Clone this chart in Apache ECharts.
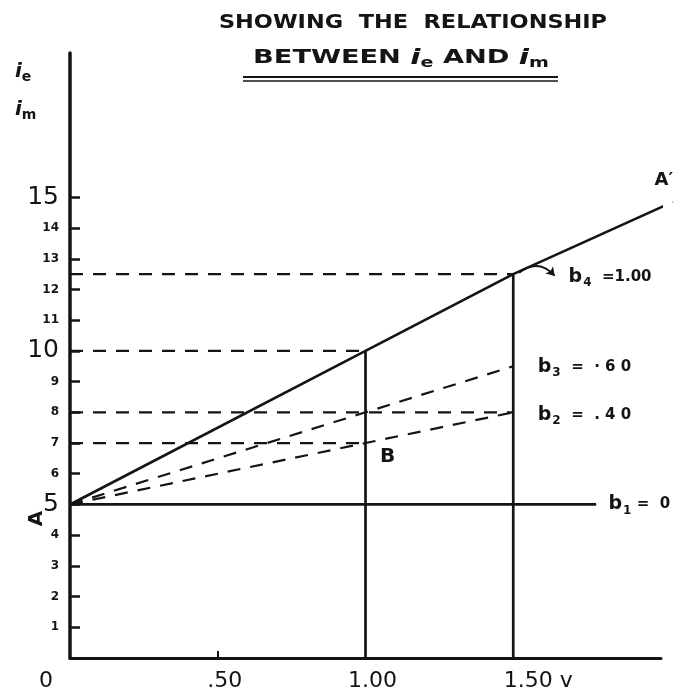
<!DOCTYPE html>
<html>
<head>
<meta charset="utf-8">
<script src="https://cdn.jsdelivr.net/npm/echarts@6/dist/echarts.min.js"></script>
<style>
  html, body { margin: 0; padding: 0; background: #fff; }
  #chart { width: 682px; height: 698px; }
</style>
</head>
<body>
<div id="chart"></div>
<script>
  'use strict'

  /*----- values -----*/
  var xTicks = [0, 0.5, 1.0, 1.5];
  var xTickLabels = ['0', '.50', '1.00', '1.50 v'];
  var yTicks = [1, 2, 3, 4, 5, 6, 7, 8, 9, 10, 11, 12, 13, 14, 15];

  var lineA = [[0, 5], [1.0, 10], [1.5, 12.5], [2.04, 14.85]];   // b4 = 1.00
  var lineB3 = [[0, 5], [1.0, 8], [1.5, 9.5]];                     // b3 = .60
  var lineB2 = [[0, 5], [1.0, 7], [1.5, 8]];                       // b2 = .40
  var lineB1 = [[0, 5], [1.78, 5]];                                // b1 = 0
  var guideV = [[1.0, 10], [1.5, 12.5]];                           // x, top
  var guideH = [[12.5, 1.5], [10, 1.0], [8, 1.5], [7, 1.0]];       // y, right end
  var arrowB4 = [[1.52, 12.55], [1.64, 12.45]];

  var ink = '#141414';
  var font = 'DejaVu Sans';

  var subRich = {
    b: { fontSize: 19, fontWeight: 'bold', fontFamily: font, color: ink },
    s: { fontSize: 12, fontWeight: 'bold', fontFamily: font, color: ink, padding: [12, 0, 0, 1] },
    t: { fontSize: 15, fontWeight: 'bold', fontFamily: font, color: ink }
  };

  function seg(data, dashed) {
    return {
      type: 'line',
      data: data,
      symbol: 'circle',
      symbolSize: 1,
      showSymbol: true,
      clip: false,
      silent: true,
      animation: false,
      itemStyle: { color: ink },
      lineStyle: { color: ink, width: dashed ? 2.2 : 2.7, type: dashed ? [13, 10] : 'solid' },
      z: 3
    };
  }

  function endLabel(text, dist, off) {
    return {
      show: true,
      position: 'right',
      distance: dist,
      offset: off || [0, 0],
      formatter: text,
      rich: subRich
    };
  }

  var series = [];

  // solid line A -> A'
  var aData = lineA.map(function (p) { return { value: p }; });
  aData[0].label = {
    show: true, position: 'inside', offset: [-14, -33], rotate: 90,
    formatter: 'A', fontSize: 20, fontWeight: 'bold', fontFamily: font, color: ink
  };
  aData[aData.length - 1].label = {
    show: true, position: 'inside', offset: [-9, -22],
    formatter: 'A\u2032', fontSize: 18, fontWeight: 'bold', fontFamily: font, color: ink
  };
  series.push(seg(aData, false));

  // b3 dashed
  var b3Data = lineB3.map(function (p) { return { value: p }; });
  b3Data[b3Data.length - 1].label = endLabel('{b|b}{s|3}{t|  =  \u00b7 6 0}', 24, [0, 1]);
  series.push(seg(b3Data, true));

  // b2 dashed, with point B
  var b2Data = lineB2.map(function (p) { return { value: p }; });
  b2Data[1].label = {
    show: true, position: 'inside', offset: [22, 14],
    formatter: 'B', fontSize: 20, fontWeight: 'bold', fontFamily: font, color: ink
  };
  b2Data[b2Data.length - 1].label = endLabel('{b|b}{s|2}{t|  =  . 4 0}', 24, [0, 3]);
  series.push(seg(b2Data, true));

  // b1 solid horizontal
  var b1Data = lineB1.map(function (p) { return { value: p }; });
  b1Data[b1Data.length - 1].label = endLabel('{b|b}{s|1}{t| =  0}', 12, [0, 0]);
  series.push(seg(b1Data, false));

  // vertical guides
  guideV.forEach(function (g) {
    series.push(seg([[g[0], 0], [g[0], g[1]]], false));
  });

  // horizontal dashed guides
  guideH.forEach(function (g) {
    series.push(seg([[0, g[0]], [g[1], g[0]]], true));
  });

  // curved arrow to b4 label
  series.push({
    type: 'lines',
    coordinateSystem: 'cartesian2d',
    silent: true,
    animation: false,
    symbol: ['none', 'arrow'],
    symbolSize: 8,
    lineStyle: { color: ink, width: 2, curveness: 0.45, opacity: 1 },
    label: {
      show: true,
      position: 'end',
      distance: 14,
      opacity: 1,
      formatter: '{b|b}{s|4}{t|  =1.00}',
      rich: subRich
    },
    data: [{ coords: arrowB4 }]
  });

  var option = {
    backgroundColor: '#fff',
    title: [
      {
        text: '{i|i}{s|e}\n{i|i}{s|m}',
        left: 10,
        top: 48,
        textStyle: {
          lineHeight: 38,
          rich: {
            i: { fontFamily: font, fontSize: 20, fontWeight: 'bold', fontStyle: 'italic', color: ink, lineHeight: 38 },
            s: { fontFamily: font, fontSize: 14, fontWeight: 'bold', color: ink, padding: [10, 0, 0, 0], lineHeight: 38 }
          }
        }
      }
    ],
    graphic: [
      {
        type: 'text', x: 413, y: 23, scaleX: 1.12,
        style: {
          text: 'SHOWING  THE  RELATIONSHIP',
          font: 'bold 20px "DejaVu Sans"', fill: ink, align: 'center', verticalAlign: 'middle'
        }
      },
      {
        type: 'text', x: 401, y: 58, scaleX: 1.36,
        style: {
          text: 'BETWEEN {i|i}{s|e} AND {i|i}{s|m}',
          font: 'bold 20px "DejaVu Sans"', fill: ink, align: 'center', verticalAlign: 'middle',
          rich: {
            i: { fontFamily: font, fontSize: 22, fontWeight: 'bold', fontStyle: 'italic', fill: ink },
            s: { fontFamily: font, fontSize: 14, fontWeight: 'bold', fill: ink, padding: [10, 0, 0, 0] }
          }
        }
      },
      { type: 'line', shape: { x1: 243, y1: 77, x2: 558, y2: 77 }, style: { stroke: ink, lineWidth: 2 } },
      { type: 'line', shape: { x1: 243, y1: 81, x2: 558, y2: 81 }, style: { stroke: ink, lineWidth: 1.5 } }
    ],
    grid: { left: 70, right: 21, top: 53, bottom: 40, containLabel: false },
    xAxis: {
      type: 'value',
      min: 0,
      max: 2.0,
      interval: 0.5,
      splitLine: { show: false },
      axisLine: { show: true, onZero: false, lineStyle: { color: ink, width: 3 } },
      axisTick: { show: true, inside: true, length: 7, customValues: [0.5], lineStyle: { color: ink, width: 2 } },
      axisLabel: {
        customValues: xTicks,
        margin: 12,
        formatter: function (v) {
          var i = xTicks.indexOf(v);
          var txt = xTickLabels[i];
          if (v === 0) return '{z|' + txt + '}';
          if (v === 1.5) return '{w|' + txt + '}';
          return '{n|' + txt + '}';
        },
        rich: {
          z: { fontFamily: font, fontSize: 22, color: ink, padding: [0, 48, 0, 0] },
          n: { fontFamily: font, fontSize: 22, color: ink, padding: [0, 0, 0, 14] },
          w: { fontFamily: font, fontSize: 22, color: ink, padding: [0, 0, 0, 50] }
        }
      }
    },
    yAxis: {
      type: 'value',
      min: 0,
      max: 19.7,
      interval: 1,
      splitLine: { show: false },
      axisLine: { show: true, onZero: false, lineStyle: { color: ink, width: 3.5 } },
      axisTick: { show: true, inside: true, length: 10, customValues: yTicks, lineStyle: { color: ink, width: 2.5 } },
      axisLabel: {
        customValues: yTicks,
        margin: 11,
        formatter: function (v) {
          return v % 5 === 0 ? '{big|' + v + '}' : '{sm|' + v + '}';
        },
        rich: {
          big: { fontFamily: font, fontSize: 25, color: ink },
          sm: { fontFamily: font, fontSize: 12, fontWeight: 'bold', color: ink }
        }
      }
    },
    series: series
  };

  var chart = echarts.init(document.getElementById('chart'));
  chart.setOption(option);
</script>
</body>
</html>
